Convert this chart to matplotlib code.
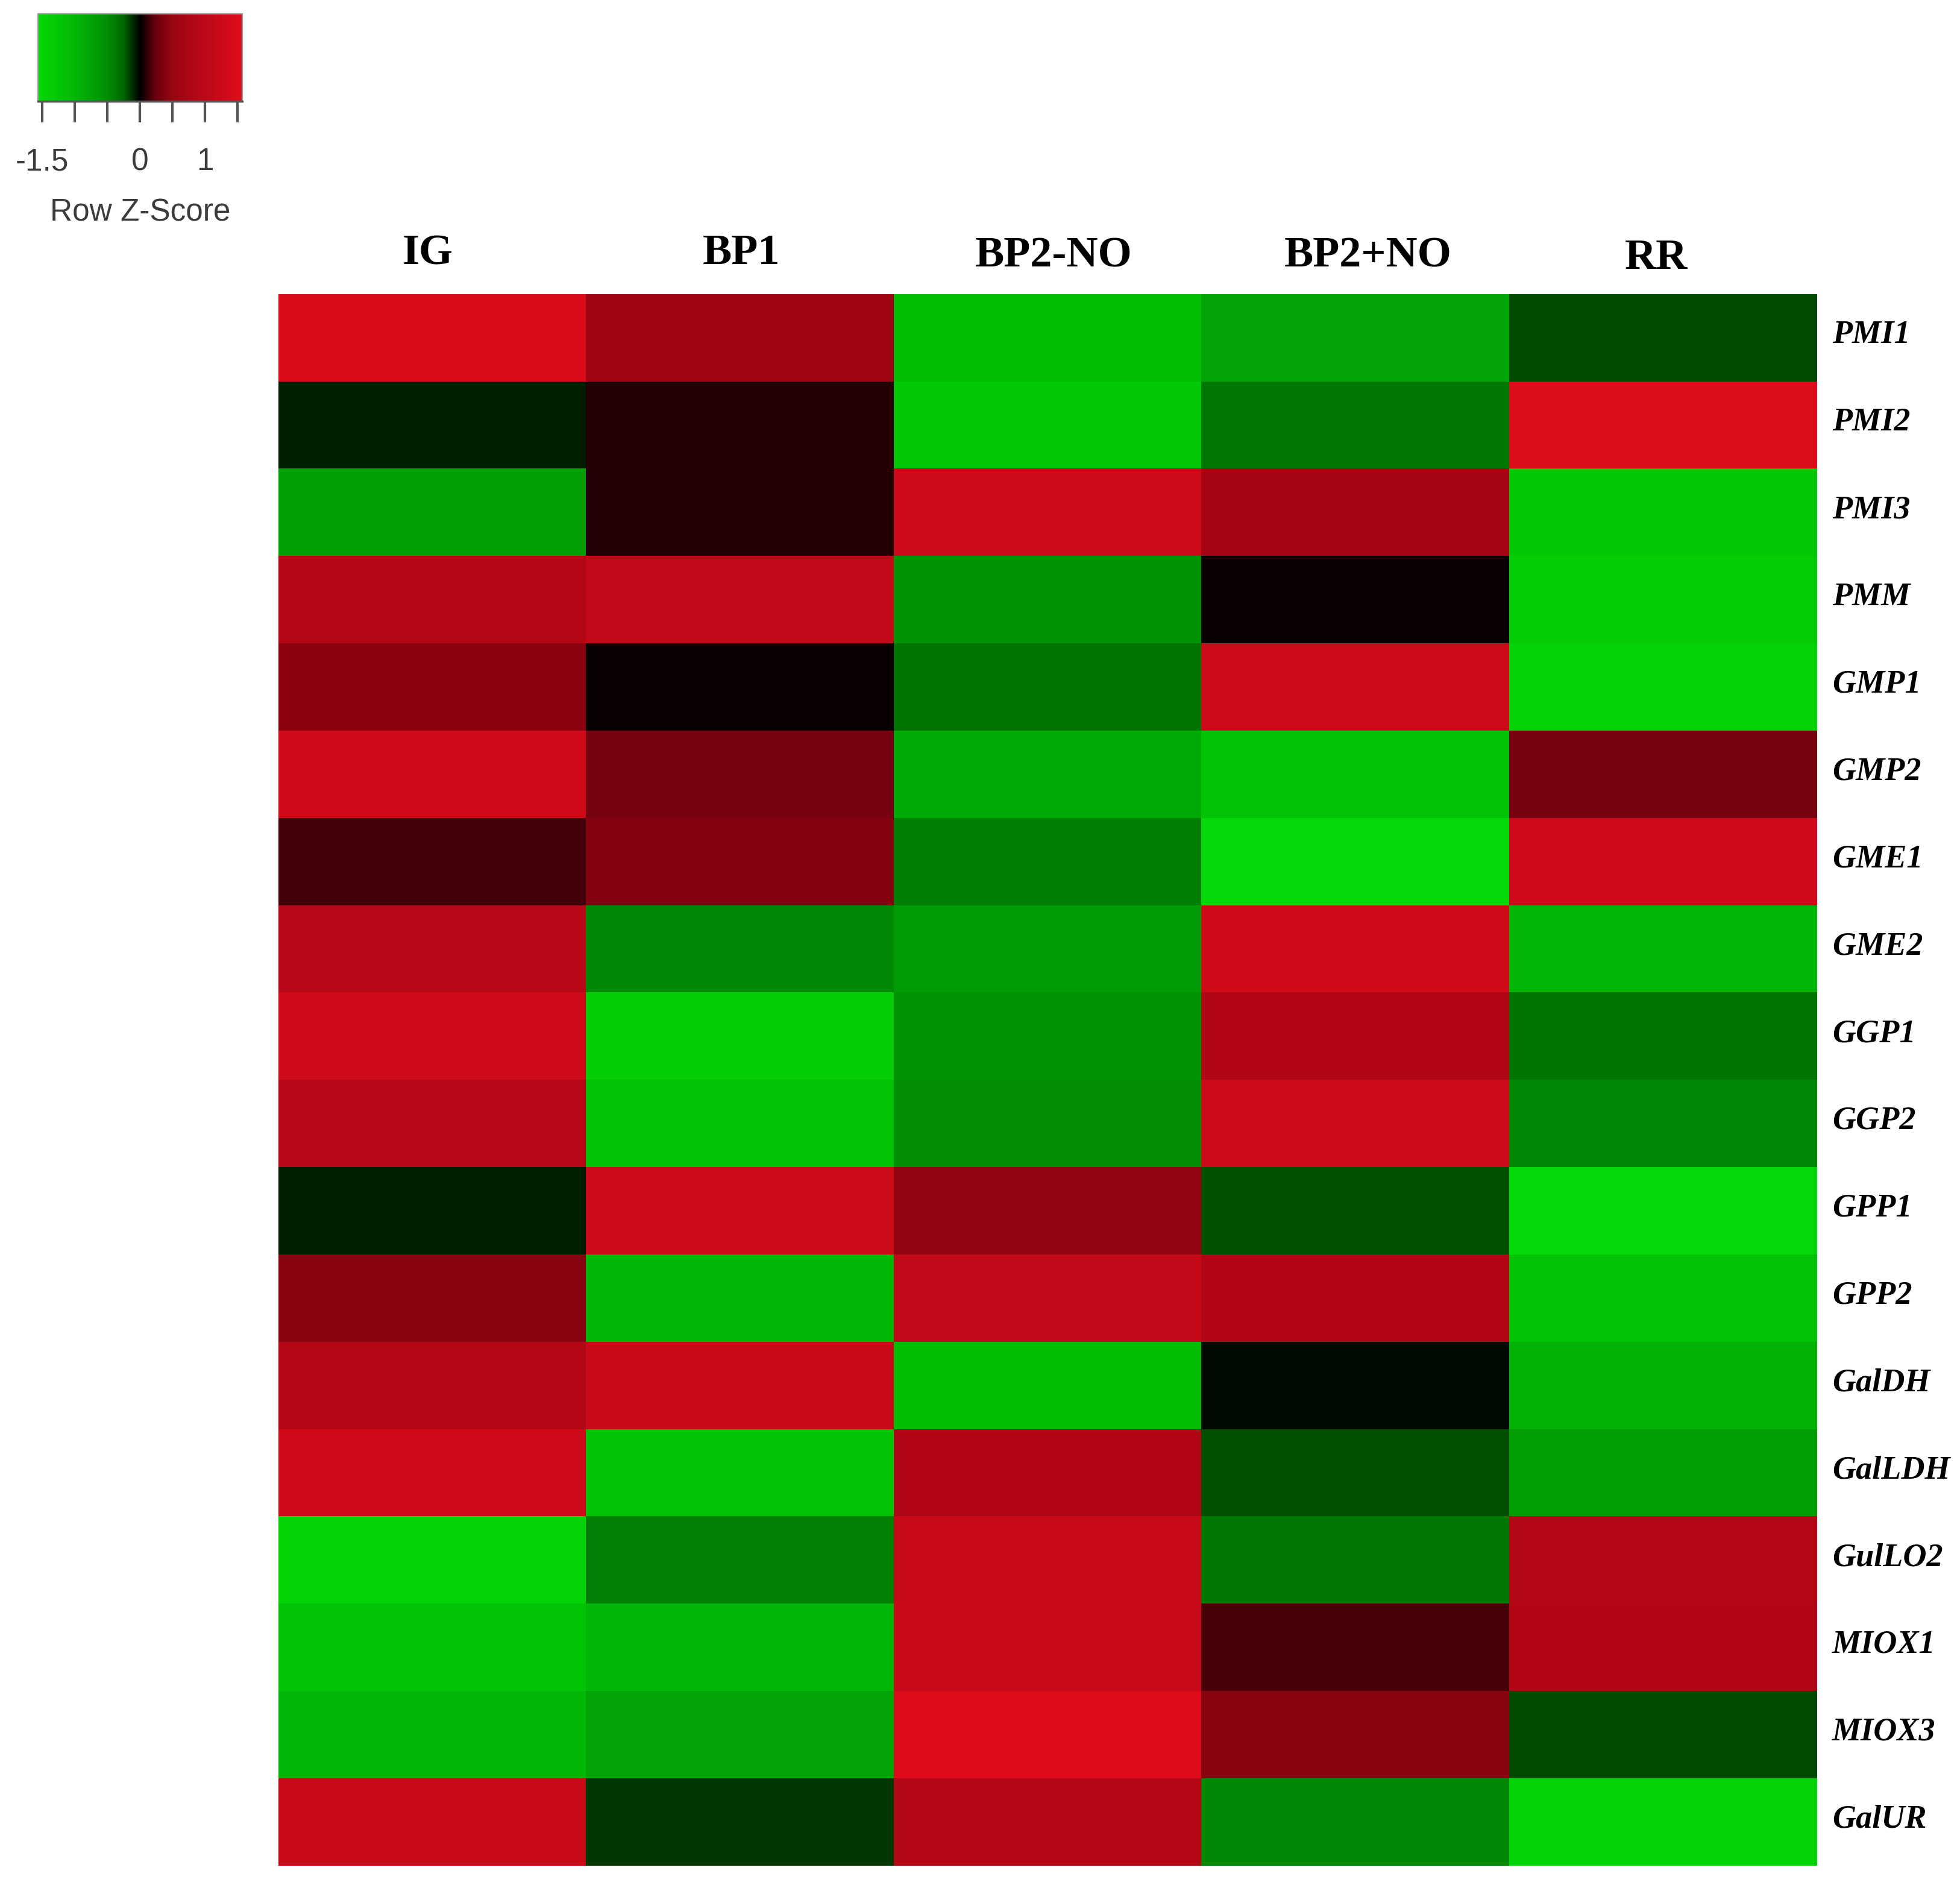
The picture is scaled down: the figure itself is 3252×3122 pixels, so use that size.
import numpy as np
import matplotlib
matplotlib.use("Agg")
import matplotlib.pyplot as plt
from matplotlib.colors import LinearSegmentedColormap

# row z-scores (top row first)
genes = ["PMI1", "PMI2", "PMI3", "PMM", "GMP1", "GMP2", "GME1", "GME2", "GGP1",
         "GGP2", "GPP1", "GPP2", "GalDH", "GalLDH", "GulLO2", "MIOX1", "MIOX3", "GalUR"]
groups = ["IG", "BP1", "BP2-NO", "BP2+NO", "RR"]

ig = [1.42, -0.08, -0.70, 0.88, 0.43, 1.34, 0.16, 0.94, 1.34,
      0.94, -0.08, 0.40, 0.88, 1.30, -1.47, -1.20, -1.00, 1.18]
bp1 = [0.60, 0.08, 0.08, 1.10, 0.02, 0.32, 0.38, -0.47, -1.38,
       -1.20, 1.26, -1.00, 1.18, -1.20, -0.42, -1.00, -0.78, -0.13]
bp2_no = [-1.10, -1.28, 1.26, -0.55, -0.35, -0.85, -0.40, -0.65, -0.55,
          -0.50, 0.47, 1.10, -1.10, 0.82, 1.18, 1.18, 1.55, 0.88]
bp2_plus_no = [-0.78, -0.37, 0.67, 0.02, 1.26, -1.20, -1.57, 1.30, 0.82,
               1.26, -0.20, 0.82, -0.03, -0.20, -0.37, 0.17, 0.40, -0.47]
rr = [-0.19, 1.50, -1.28, -1.38, -1.47, 0.32, 1.34, -1.00, -0.35,
      -0.47, -1.57, -1.20, -0.95, -0.70, 0.88, 0.82, -0.18, -1.47]

key_ticks = [-1.5, -1.0, -0.5, 0.0, 0.5, 1.0, 1.5]
key_labels = ["-1.5", "", "", "0", "", "1", ""]

# colour key: green - black - red, sampled from the key strip
lo, hi = -1.565, 1.575
nodes = [(-1.565, (0.02, 0.85, 0.03)), (-1.0, (0.01, 0.72, 0.02)),
         (-0.5, (0.0, 0.56, 0.02)), (-0.25, (0.0, 0.40, 0.0)),
         (0.0, (0.0, 0.0, 0.0)), (0.25, (0.42, 0.0, 0.05)),
         (0.5, (0.60, 0.02, 0.07)), (1.0, (0.74, 0.03, 0.09)),
         (1.575, (0.88, 0.05, 0.11))]
cmap = LinearSegmentedColormap.from_list(
    "gbr", [((z - lo) / (hi - lo), c) for z, c in nodes])

W, H = 3252, 3122
fig = plt.figure(figsize=(W / 100, H / 100), dpi=100, facecolor="white")

data = np.array([ig, bp1, bp2_no, bp2_plus_no, rr]).T

# heatmap
hx0, hx1, hy0, hy1 = 462, 3015, 488, 3095
ax = fig.add_axes([hx0 / W, 1 - hy1 / H, (hx1 - hx0) / W, (hy1 - hy0) / H])
ax.imshow(data, cmap=cmap, vmin=lo, vmax=hi, aspect="auto", interpolation="nearest")
ax.set_xticks([]); ax.set_yticks([])
for s in ax.spines.values():
    s.set_visible(False)

serif = ["Liberation Serif", "DejaVu Serif"]
col_y = [421, 421, 425, 425, 429]
col_x = [710, 1230, 1748, 2270, 2748]
for name, x, y in zip(groups, col_x, col_y):
    fig.text(x / W, 1 - y / H, name, ha="center", va="center", fontsize=52,
             fontweight="bold", family=serif)

row_h = (hy1 - hy0) / len(genes)
for i, g in enumerate(genes):
    yc = hy0 + row_h * (i + 0.5) - 4
    fig.text(3040 / W, 1 - yc / H, g, ha="left", va="center", fontsize=39,
             fontweight="bold", fontstyle="italic", family=serif)

# colour key
kx0, kx1, ky0, ky1 = 63, 402, 23, 168
kax = fig.add_axes([kx0 / W, 1 - ky1 / H, (kx1 - kx0) / W, (ky1 - ky0) / H])
grad = np.linspace(lo, hi, 512)[None, :]
kax.imshow(grad, cmap=cmap, vmin=lo, vmax=hi, aspect="auto",
           extent=[lo, hi, 0, 1], interpolation="bilinear")
kax.set_yticks([])
kax.set_xticks(key_ticks)
kax.set_xticklabels(key_labels, fontsize=37, color="#3c3c3c",
                    family=["Liberation Sans", "DejaVu Sans"])
kax.tick_params(axis="x", length=25, width=3, color="#555555", pad=30)
for s in kax.spines.values():
    s.set_color("#9a9a9a"); s.set_linewidth(1.5)
kax.spines["bottom"].set_color("#555555"); kax.spines["bottom"].set_linewidth(2.5)
fig.text(233 / W, 1 - 353 / H, "Row Z-Score", ha="center", va="center", fontsize=37,
         color="#3c3c3c", family=["Liberation Sans", "DejaVu Sans"])

fig.savefig("out.png", dpi=100, facecolor="white")
